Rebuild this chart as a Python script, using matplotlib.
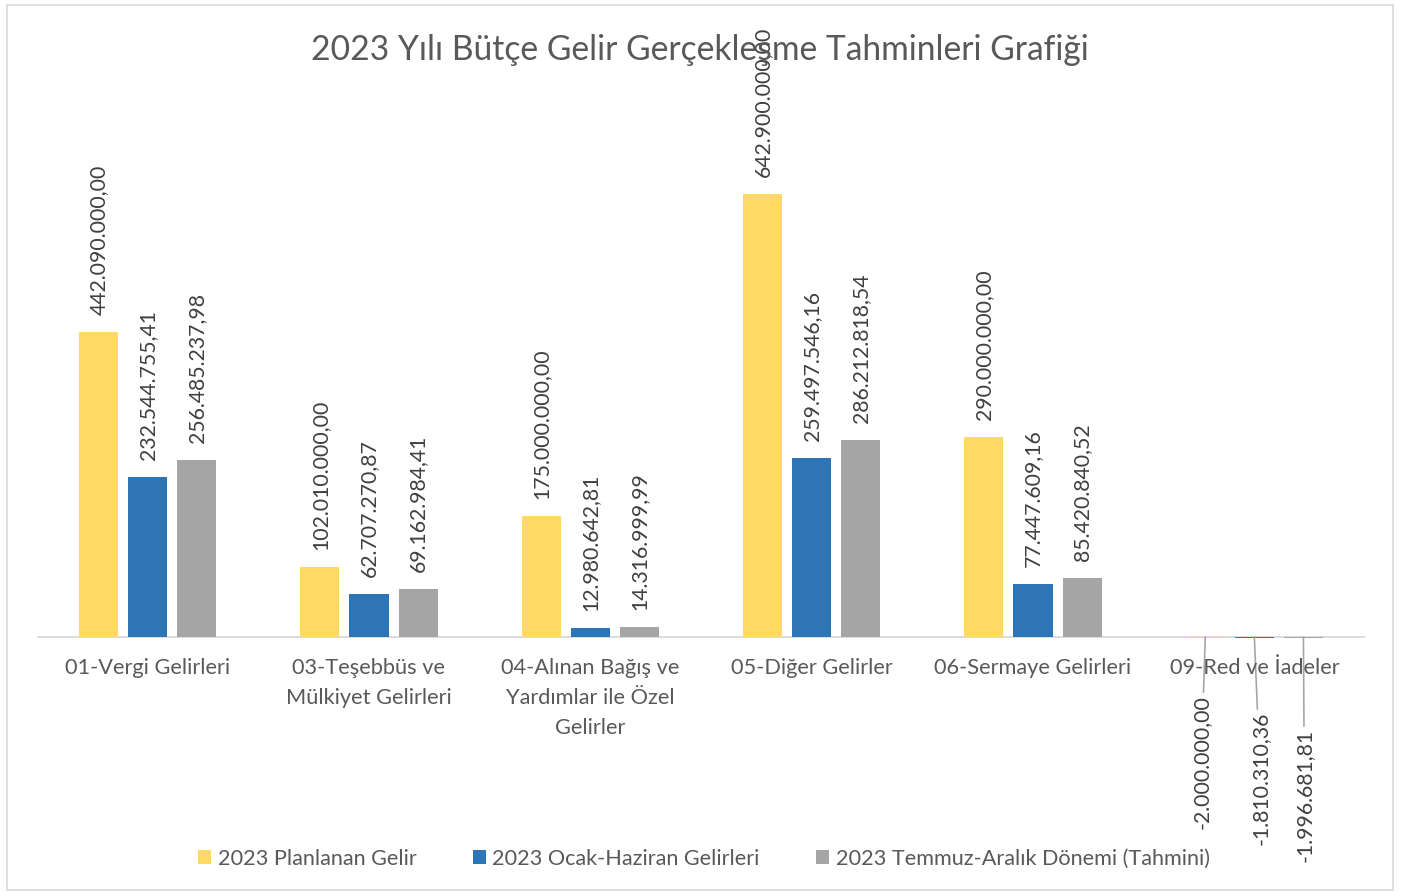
import matplotlib
matplotlib.use("Agg")
import matplotlib.pyplot as plt
from matplotlib.patches import Rectangle
import numpy as np

plt.rcParams['font.family'] = ['Lato', 'DejaVu Sans']

title = "2023 Yılı Bütçe Gelir Gerçekleşme Tahminleri Grafiği"
categories = ["01-Vergi Gelirleri", "03-Teşebbüs ve\nMülkiyet Gelirleri",
              "04-Alınan Bağış ve\nYardımlar ile Özel\nGelirler", "05-Diğer Gelirler",
              "06-Sermaye Gelirleri", "09-Red ve İadeler"]
series_names = ["2023 Planlanan Gelir", "2023 Ocak-Haziran Gelirleri",
                "2023 Temmuz-Aralık Dönemi (Tahmini)"]
planned = [442090000.00, 102010000.00, 175000000.00, 642900000.00, 290000000.00, -2000000.00]
jan_jun = [232544755.41, 62707270.87, 12980642.81, 259497546.16, 77447609.16, -1810310.36]
jul_dec = [256485237.98, 69162984.41, 14316999.99, 286212818.54, 85420840.52, -1996681.81]
colors = ["#FFD966", "#2E75B6", "#A5A5A5"]


def tr_fmt(v):
    s = f"{v:,.2f}"
    return s.replace(",", "X").replace(".", ",").replace("X", ".")


W, H = 1403, 893
fig = plt.figure(figsize=(W / 100, H / 100), dpi=100)
fig.patches.append(Rectangle((7 / W, 3 / H), 1386 / W, 885 / H, transform=fig.transFigure,
                             fill=False, edgecolor="#d9d9d9", linewidth=1.2))

# value 0 sits at y=637px, 0.689 px per million
ymin, ymax = -5e6, 700e6
y0 = 637 + 5 * 0.689
y1 = 637 - 700 * 0.689
ax = fig.add_axes([37 / W, 1 - y0 / H, 1328 / W, (y0 - y1) / H])
ax.set_xlim(-0.5, 5.5)
ax.set_ylim(ymin, ymax)
ax.axis("off")
ax.axhline(0, color="#d9d9d9", linewidth=1.3, zorder=1)

x = np.arange(len(categories))
width = 39 / 221
step = 49 / 221
neg_offsets = [(-4, -58), (6, -75), (1, -92)]

for i, (vals, col, name) in enumerate(zip([planned, jan_jun, jul_dec], colors, series_names)):
    xs = x + (i - 1) * step
    ax.bar(xs, vals, width=width, color=col, label=name, zorder=2)
    for xi, v in zip(xs, vals):
        if v >= 0:
            ax.annotate(tr_fmt(v), (xi, v), xytext=(0, 17 * 0.72), textcoords="offset points",
                        rotation=90, ha="center", va="bottom", fontsize=15.3, color="#404040")
        else:
            dx, dy = neg_offsets[i]
            ax.annotate(tr_fmt(v), (xi, 0), xytext=(dx * 0.72, dy * 0.72), textcoords="offset points",
                        rotation=90, ha="center", va="top", fontsize=15.3, color="#404040",
                        arrowprops=dict(arrowstyle="-", color="#a6a6a6", lw=1.2,
                                        shrinkA=0, shrinkB=0))

for xi, cat in zip(x, categories):
    ax.annotate(cat, (xi, 0), xytext=(0, -21 * 0.72), textcoords="offset points",
                ha="center", va="top", fontsize=15.7, color="#595959", linespacing=1.64)

fig.text(700 / W, 1 - 50 / H, title, ha="center", va="center", fontsize=24.2, color="#595959")

fig.legend(loc="center", bbox_to_anchor=(704 / W, 1 - 859 / H), ncol=3, frameon=False,
           fontsize=15.6, handlelength=0.6, handleheight=0.6, handletextpad=0.3,
           columnspacing=2.6, labelcolor="#595959")

fig.savefig("out.png", dpi=100)
